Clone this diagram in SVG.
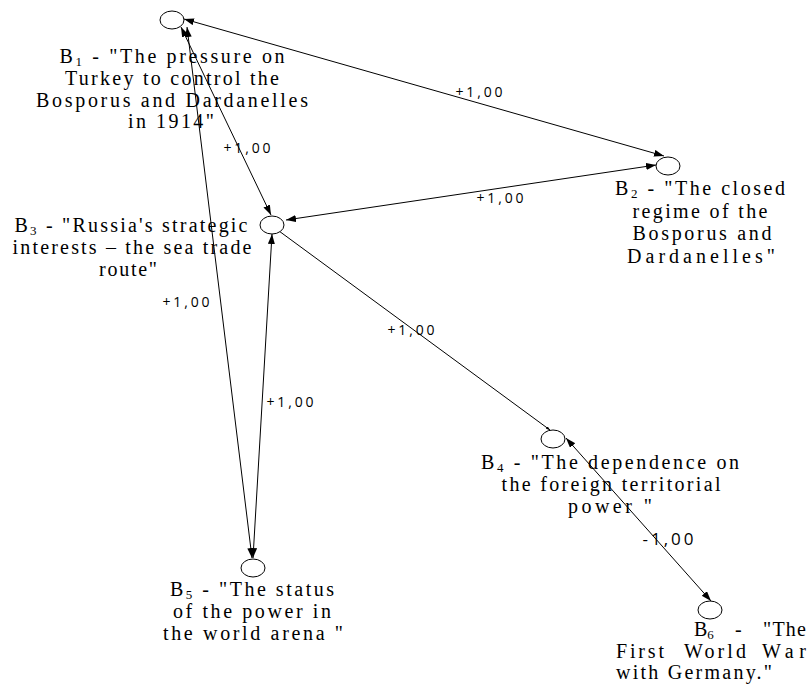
<svg xmlns="http://www.w3.org/2000/svg" width="808" height="684" viewBox="0 0 808 684">
<style>
  .node ellipse { fill: #ffffff; stroke: #000000; stroke-width: 1; }
  .lbl { font-family: "Liberation Serif", "DejaVu Serif", serif; font-size: 20px; fill: #000000; text-anchor: middle; }
  .lbls { font-family: "Liberation Serif", "DejaVu Serif", serif; font-size: 20px; fill: #000000; text-anchor: start; }
  .sub { font-size: 13px; }
  .edge { stroke: #000000; stroke-width: 1; fill: none; }
  .ew { font-family: "Open Sans", "DejaVu Sans", sans-serif; font-size: 14px; fill: #000000; text-anchor: middle; }
  .ewb { font-family: "Open Sans", "DejaVu Sans", sans-serif; font-size: 17px; fill: #000000; text-anchor: middle; }
</style>
<defs>
  <marker id="arr" markerUnits="userSpaceOnUse" markerWidth="11" markerHeight="8" refX="10" refY="3.5" orient="auto-start-reverse" viewBox="0 0 11 8">
    <path d="M0,0 L10,3.5 L0,7 z" fill="#000000"/>
  </marker>
  <marker id="arrs" markerUnits="userSpaceOnUse" markerWidth="5" markerHeight="4" refX="4" refY="1.5" orient="auto" viewBox="0 0 5 4">
    <path d="M0,0 L4,1.5 L0,3 z" fill="#000000"/>
  </marker>
</defs>

<g id="connectors">
  <line class="edge" x1="184" y1="19" x2="664" y2="156" marker-start="url(#arr)" marker-end="url(#arr)"/>
  <line class="edge" x1="181" y1="27" x2="271" y2="215" marker-start="url(#arr)" marker-end="url(#arr)"/>
  <line class="edge" x1="187" y1="27" x2="252" y2="558" marker-start="url(#arr)" marker-end="url(#arr)"/>
  <line class="edge" x1="272" y1="234" x2="253" y2="558" marker-start="url(#arr)" marker-end="url(#arr)"/>
  <line class="edge" x1="286" y1="220" x2="656" y2="165" marker-start="url(#arr)" marker-end="url(#arr)"/>
  <line class="edge" x1="279" y1="231" x2="550" y2="430" marker-end="url(#arrs)"/>
  <line class="edge" x1="566" y1="438" x2="711" y2="601" marker-start="url(#arr)" marker-end="url(#arr)"/>
  <text class="ew" x="479" y="97" textLength="47" lengthAdjust="spacing">+1,00</text>
  <text class="ew" x="247" y="153" textLength="47" lengthAdjust="spacing">+1,00</text>
  <text class="ew" x="500" y="203" textLength="47" lengthAdjust="spacing">+1,00</text>
  <text class="ew" x="186" y="307" textLength="47" lengthAdjust="spacing">+1,00</text>
  <text class="ew" x="411" y="335" textLength="47" lengthAdjust="spacing">+1,00</text>
  <text class="ew" x="290" y="407" textLength="47" lengthAdjust="spacing">+1,00</text>
  <text class="ewb" x="668" y="545" textLength="51" lengthAdjust="spacing">-1,00</text>
</g>

<g id="B1" class="node">
  <ellipse cx="172" cy="20" rx="12" ry="9"/>
  <text class="lbl" x="172" y="63" textLength="225" lengthAdjust="spacing">B<tspan class="sub" dy="3">1</tspan><tspan dy="-3"> - "The pressure on</tspan></text>
  <text class="lbl" x="172" y="85" textLength="214" lengthAdjust="spacing">Turkey to control the</text>
  <text class="lbl" x="172" y="107" textLength="272" lengthAdjust="spacing">Bosporus and Dardanelles</text>
  <text class="lbl" x="171" y="128" textLength="86" lengthAdjust="spacing">in 1914"</text>
</g>

<g id="B2" class="node">
  <ellipse cx="668" cy="166" rx="12" ry="9"/>
  <text class="lbl" x="700" y="195" textLength="170" lengthAdjust="spacing">B<tspan class="sub" dy="3">2</tspan><tspan dy="-3"> - "The closed</tspan></text>
  <text class="lbl" x="700" y="218" textLength="135" lengthAdjust="spacing">regime of the</text>
  <text class="lbl" x="702" y="240" textLength="139" lengthAdjust="spacing">Bosporus and</text>
  <text class="lbl" x="701" y="263" textLength="148" lengthAdjust="spacing">Dardanelles"</text>
</g>

<g id="B3" class="node">
  <ellipse cx="272" cy="225" rx="12" ry="9"/>
  <text class="lbl" x="131" y="232" textLength="233" lengthAdjust="spacing">B<tspan class="sub" dy="3">3</tspan><tspan dy="-3"> - "Russia's strategic</tspan></text>
  <text class="lbl" x="132" y="254" textLength="239" lengthAdjust="spacing">interests – the sea trade</text>
  <text class="lbl" x="128" y="276" textLength="58" lengthAdjust="spacing">route"</text>
</g>

<g id="B4" class="node">
  <ellipse cx="553" cy="439" rx="12" ry="9"/>
  <text class="lbl" x="610" y="469" textLength="258" lengthAdjust="spacing">B<tspan class="sub" dy="3">4</tspan><tspan dy="-3"> - "The dependence on</tspan></text>
  <text class="lbl" x="611" y="491" textLength="219" lengthAdjust="spacing">the foreign territorial</text>
  <text class="lbl" x="610" y="513" textLength="84" lengthAdjust="spacing">power "</text>
</g>

<g id="B5" class="node">
  <ellipse cx="253" cy="568" rx="12" ry="9"/>
  <text class="lbl" x="252" y="596" textLength="164" lengthAdjust="spacing">B<tspan class="sub" dy="3">5</tspan><tspan dy="-3"> - "The status</tspan></text>
  <text class="lbl" x="252" y="618" textLength="158" lengthAdjust="spacing">of the power in</text>
  <text class="lbl" x="253" y="640" textLength="180" lengthAdjust="spacing">the world arena "</text>
</g>

<g id="B6" class="node">
  <ellipse cx="710" cy="610" rx="12" ry="9"/>
  <text class="lbls" x="694" y="636">B<tspan class="sub" dy="3">6</tspan></text>
  <text class="lbls" x="735" y="636">-</text>
  <text class="lbls" x="763" y="636" textLength="43" lengthAdjust="spacing">"The</text>
  <text class="lbls" x="616" y="658" textLength="48" lengthAdjust="spacing">First</text>
  <text class="lbls" x="684" y="658" textLength="62" lengthAdjust="spacing">World</text>
  <text class="lbls" x="762" y="658" textLength="44" lengthAdjust="spacing">War</text>
  <text class="lbls" x="616" y="679" textLength="156" lengthAdjust="spacing">with Germany."</text>
</g>
</svg>
